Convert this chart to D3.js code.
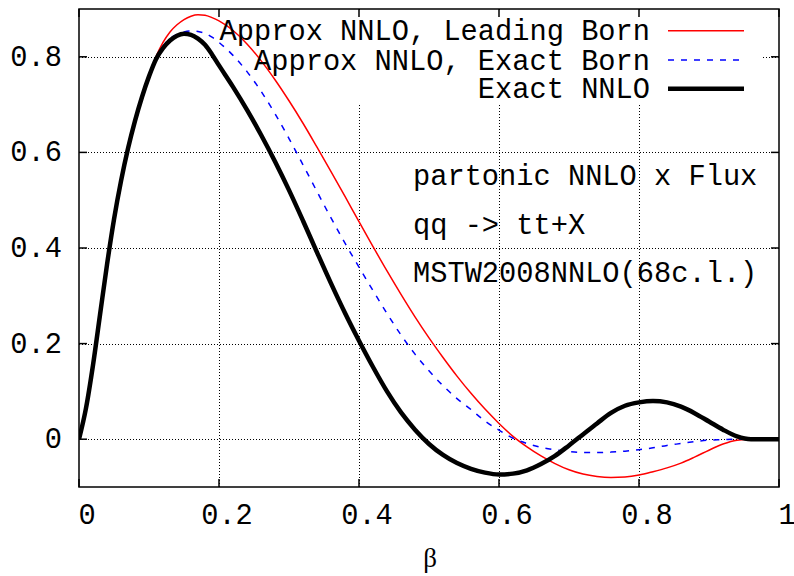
<!DOCTYPE html>
<html>
<head>
<meta charset="utf-8">
<script src="https://cdn.jsdelivr.net/npm/d3@7"></script>
<style>
  body { margin: 0; background: #fff; }
  svg { display: block; }
  .mono { font-family: "Courier New", "Nimbus Mono PS", "FreeMono", "Liberation Mono", monospace; font-size: 28.7px; fill: #000; }
</style>
</head>
<body>
<div id="chart"></div>
<script>
// beta grid: 0.01 steps up to 0.2, then 0.02 steps up to 1
var beta = [0, 0.01, 0.02, 0.03, 0.04, 0.05, 0.06, 0.07, 0.08, 0.09, 0.10,
  0.11, 0.12, 0.13, 0.14, 0.15, 0.16, 0.17, 0.18, 0.19, 0.20,
  0.22, 0.24, 0.26, 0.28, 0.30, 0.32, 0.34, 0.36, 0.38, 0.40,
  0.42, 0.44, 0.46, 0.48, 0.50, 0.52, 0.54, 0.56, 0.58, 0.60,
  0.62, 0.64, 0.66, 0.68, 0.70, 0.72, 0.74, 0.76, 0.78, 0.80,
  0.82, 0.84, 0.86, 0.88, 0.90, 0.92, 0.94, 0.96, 0.98, 1.00];

var leadingBorn = [0, 0.065, 0.155, 0.26, 0.365, 0.46, 0.54, 0.608, 0.666, 0.716, 0.762,
  0.80, 0.83, 0.852, 0.867, 0.878, 0.885, 0.888, 0.887, 0.882, 0.875,
  0.855, 0.827, 0.792, 0.752, 0.708, 0.661, 0.611, 0.56, 0.508, 0.455,
  0.403, 0.352, 0.303, 0.256, 0.212, 0.171, 0.132, 0.096, 0.063, 0.033,
  0.006, -0.016, -0.035, -0.051, -0.064, -0.073, -0.078, -0.08, -0.079, -0.075,
  -0.068, -0.06, -0.05, -0.037, -0.023, -0.01, -0.002, 0, 0, 0];

var exactBorn = [0, 0.065, 0.155, 0.26, 0.365, 0.46, 0.54, 0.608, 0.666, 0.716, 0.759,
  0.796, 0.822, 0.838, 0.847, 0.852, 0.854, 0.853, 0.849, 0.841, 0.83,
  0.803, 0.769, 0.728, 0.681, 0.629, 0.574, 0.518, 0.463, 0.41, 0.36,
  0.311, 0.263, 0.218, 0.178, 0.143, 0.112, 0.085, 0.062, 0.038, 0.019,
  0.002, -0.009, -0.017, -0.022, -0.026, -0.028, -0.028, -0.027, -0.025, -0.022,
  -0.018, -0.013, -0.009, -0.005, -0.002, -0.001, 0, 0, 0, 0];

var exactNNLO = [0, 0.065, 0.155, 0.26, 0.365, 0.46, 0.54, 0.608, 0.666, 0.716, 0.759,
  0.795, 0.818, 0.834, 0.844, 0.848, 0.846, 0.838, 0.825, 0.805, 0.782,
  0.737, 0.689, 0.637, 0.581, 0.521, 0.457, 0.391, 0.326, 0.264, 0.206,
  0.151, 0.10, 0.056, 0.02, -0.01, -0.033, -0.05, -0.062, -0.07, -0.074,
  -0.072, -0.065, -0.052, -0.035, -0.013, 0.01, 0.033, 0.055, 0.07, 0.077,
  0.080, 0.077, 0.068, 0.054, 0.037, 0.02, 0.006, 0, 0, 0];

var xTicks = [0, 0.2, 0.4, 0.6, 0.8, 1];
var xTickLabels = ["0", "0.2", "0.4", "0.6", "0.8", "1"];
var yTicks = [0, 0.2, 0.4, 0.6, 0.8];
var yTickLabels = ["0", "0.2", "0.4", "0.6", "0.8"];

var seriesNames = ["Approx NNLO, Leading Born", "Approx NNLO, Exact Born", "Exact NNLO"];
var notes = ["partonic NNLO x Flux", "qq -> tt+X", "MSTW2008NNLO(68c.l.)"];

var width = 794, height = 576;
var plotLeft = 79, plotRight = 779, plotTop = 9, plotBottom = 487;

var svg = d3.select("#chart").append("svg")
  .attr("width", width)
  .attr("height", height);

var x = d3.scaleLinear().domain([0, 1]).range([plotLeft, plotRight]);
var y = d3.scaleLinear().domain([-0.1, 0.9]).range([plotBottom, plotTop]);

/* grid */
var grid = svg.append("g")
  .attr("stroke", "#000")
  .attr("stroke-width", 1)
  .attr("stroke-dasharray", "1,2");
grid.selectAll(".gy").data(yTicks).enter().append("line")
  .attr("x1", plotLeft).attr("x2", plotRight)
  .attr("y1", d => Math.round(y(d)) + 0.5).attr("y2", d => Math.round(y(d)) + 0.5);
grid.selectAll(".gx").data(xTicks.slice(1, -1)).enter().append("line")
  .attr("y1", plotTop).attr("y2", plotBottom)
  .attr("x1", d => Math.round(x(d)) + 0.5).attr("x2", d => Math.round(x(d)) + 0.5);

/* key background (opaque) */
svg.append("rect")
  .attr("x", 216).attr("y", plotTop + 1)
  .attr("width", 546).attr("height", 93)
  .attr("fill", "#fff");

/* curves */
svg.append("clipPath").attr("id", "plotclip")
  .append("rect")
  .attr("x", plotLeft).attr("y", plotTop)
  .attr("width", plotRight - plotLeft).attr("height", plotBottom - plotTop);

var series = [
  { name: seriesNames[0], values: leadingBorn, color: "#ff0000", width: 1.5, dash: null },
  { name: seriesNames[1], values: exactBorn, color: "#0000ff", width: 1.5, dash: "6,7" },
  { name: seriesNames[2], values: exactNNLO, color: "#000000", width: 4.5, dash: null }
];

var line = d3.line()
  .x((d, i) => x(beta[i]))
  .y(d => y(d))
  .curve(d3.curveMonotoneX);

svg.append("g")
  .attr("clip-path", "url(#plotclip)")
  .selectAll("path")
  .data(series).enter()
  .append("path")
  .attr("d", d => line(d.values))
  .attr("fill", "none")
  .attr("stroke", d => d.color)
  .attr("stroke-width", d => d.width)
  .attr("stroke-dasharray", d => d.dash)
  .attr("stroke-linejoin", "round");

/* frame + ticks (mirrored, inward) */
var tl = 8;
var axes = svg.append("g").attr("stroke", "#000").attr("stroke-width", 1.5);
axes.append("rect")
  .attr("x", plotLeft).attr("y", plotTop)
  .attr("width", plotRight - plotLeft).attr("height", plotBottom - plotTop)
  .attr("fill", "none");
xTicks.forEach(function(t) {
  axes.append("line").attr("x1", x(t)).attr("x2", x(t)).attr("y1", plotBottom).attr("y2", plotBottom - tl);
  axes.append("line").attr("x1", x(t)).attr("x2", x(t)).attr("y1", plotTop).attr("y2", plotTop + tl);
});
yTicks.forEach(function(t) {
  axes.append("line").attr("y1", y(t)).attr("y2", y(t)).attr("x1", plotLeft).attr("x2", plotLeft + tl);
  axes.append("line").attr("y1", y(t)).attr("y2", y(t)).attr("x1", plotRight).attr("x2", plotRight - tl);
});

/* tick labels */
svg.selectAll(".xl").data(xTicks).enter().append("text")
  .attr("class", "mono")
  .attr("x", d => x(d) + 8)
  .attr("y", 524)
  .attr("text-anchor", "middle")
  .text((d, i) => xTickLabels[i]);

svg.selectAll(".yl").data(yTicks).enter().append("text")
  .attr("class", "mono")
  .attr("x", 62)
  .attr("y", d => y(d) + 9)
  .attr("text-anchor", "end")
  .text((d, i) => yTickLabels[i]);

/* axis title */
svg.append("text")
  .attr("x", 430).attr("y", 567)
  .attr("text-anchor", "middle")
  .style("font-family", "'Liberation Serif', 'Times New Roman', serif")
  .style("font-size", "27px")
  .text("β");

/* key */
var keyY = [30.7, 60, 88.7];
var key = svg.append("g");
series.forEach(function(s, i) {
  key.append("text")
    .attr("class", "mono")
    .attr("x", 650).attr("y", keyY[i] + 9.5)
    .attr("text-anchor", "end")
    .text(s.name);
  key.append("line")
    .attr("x1", 668).attr("x2", 744)
    .attr("y1", keyY[i]).attr("y2", keyY[i])
    .attr("stroke", s.color)
    .attr("stroke-width", s.width)
    .attr("stroke-dasharray", s.dash);
});

/* annotations */
svg.selectAll(".note").data(notes).enter().append("text")
  .attr("class", "mono")
  .attr("x", 413)
  .attr("y", (d, i) => 185 + i * 48.5)
  .style("white-space", "pre")
  .text(d => d);
</script>
</body>
</html>
